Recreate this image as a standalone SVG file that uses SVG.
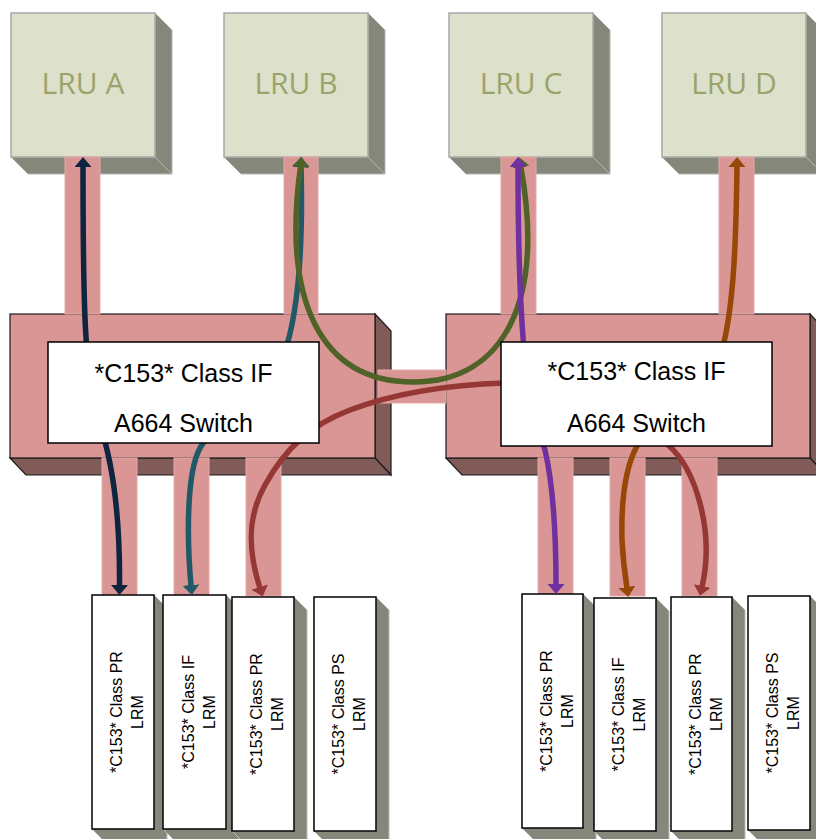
<svg xmlns="http://www.w3.org/2000/svg" width="816" height="839" viewBox="0 0 816 839">
<style>
.lru-f{fill:#dde0cb;stroke:#a8a8a8;stroke-width:1.5}
.lru-s{fill:#85877b;stroke:#b4b6ab;stroke-width:1}
.lru-t{font-family:"Open Sans","DejaVu Sans",sans-serif;font-size:30px;fill:#9aa46a;text-anchor:middle}
.sw-f{fill:#d99694;stroke:#1a1a1a;stroke-width:1.2}
.sw-s{fill:#815b57;stroke:#1a1a1a;stroke-width:1.2}
.link{fill:#d99694;stroke:#e2aba9;stroke-width:1}
.lbl{fill:#fff;stroke:#000;stroke-width:1.5}
.lbl-t{font-family:"Liberation Sans",Arial,sans-serif;font-size:25px;fill:#000;text-anchor:middle}
.lrm-f{fill:#fff;stroke:#000;stroke-width:1.5}
.lrm-s{fill:#85877b;stroke:#b9bab0;stroke-width:1}
.lrm-t{font-family:"Liberation Sans",Arial,sans-serif;font-size:16px;fill:#000;text-anchor:middle}
.arr{fill:none;stroke-width:5.5}
</style>
<defs>
<marker id="m-navy" viewBox="0 0 10 17" refX="1" refY="8.5" markerWidth="10" markerHeight="17" markerUnits="userSpaceOnUse" orient="auto-start-reverse"><path d="M0,0 L10,8.5 L0,17 z" fill="#0f243e"/></marker>
<marker id="m-teal" viewBox="0 0 10 17" refX="1" refY="8.5" markerWidth="10" markerHeight="17" markerUnits="userSpaceOnUse" orient="auto-start-reverse"><path d="M0,0 L10,8.5 L0,17 z" fill="#215967"/></marker>
<marker id="m-green" viewBox="0 0 10 17" refX="1" refY="8.5" markerWidth="10" markerHeight="17" markerUnits="userSpaceOnUse" orient="auto-start-reverse"><path d="M0,0 L10,8.5 L0,17 z" fill="#4f6228"/></marker>
<marker id="m-purple" viewBox="0 0 10 17" refX="1" refY="8.5" markerWidth="10" markerHeight="17" markerUnits="userSpaceOnUse" orient="auto-start-reverse"><path d="M0,0 L10,8.5 L0,17 z" fill="#7030a0"/></marker>
<marker id="m-orange" viewBox="0 0 10 17" refX="1" refY="8.5" markerWidth="10" markerHeight="17" markerUnits="userSpaceOnUse" orient="auto-start-reverse"><path d="M0,0 L10,8.5 L0,17 z" fill="#974806"/></marker>
<marker id="m-red" viewBox="0 0 10 17" refX="1" refY="8.5" markerWidth="10" markerHeight="17" markerUnits="userSpaceOnUse" orient="auto-start-reverse"><path d="M0,0 L10,8.5 L0,17 z" fill="#953735"/></marker>
</defs>
<rect width="816" height="839" fill="#fff"/>

<!-- LRUs -->
<g id="lru-a">
<polygon class="lru-s" points="155,13 172,30 172,174 155,157"/>
<polygon class="lru-s" points="11,157 155,157 172,174 28,174"/>
<rect class="lru-f" x="11" y="13" width="144" height="144"/>
<text class="lru-t" x="83" y="94">LRU A</text>
</g>
<g id="lru-b">
<polygon class="lru-s" points="368,13 385,30 385,174 368,157"/>
<polygon class="lru-s" points="224,157 368,157 385,174 241,174"/>
<rect class="lru-f" x="224" y="13" width="144" height="144"/>
<text class="lru-t" x="296" y="94">LRU B</text>
</g>
<g id="lru-c">
<polygon class="lru-s" points="593,13 610,30 610,174 593,157"/>
<polygon class="lru-s" points="449,157 593,157 610,174 466,174"/>
<rect class="lru-f" x="449" y="13" width="144" height="144"/>
<text class="lru-t" x="521" y="94">LRU C</text>
</g>
<g id="lru-d">
<polygon class="lru-s" points="806,13 823,30 823,174 806,157"/>
<polygon class="lru-s" points="662,157 806,157 823,174 679,174"/>
<rect class="lru-f" x="662" y="13" width="144" height="144"/>
<text class="lru-t" x="734" y="94">LRU D</text>
</g>

<!-- Switch bodies -->
<g id="switch-1">
<polygon class="sw-s" points="375,314 391,331 391,475 375,458"/>
<polygon class="sw-s" points="10,458 375,458 391,475 26,475"/>
<rect class="sw-f" x="10" y="314" width="365" height="144"/>
</g>
<g id="switch-2">
<polygon class="sw-s" points="810,314 826,331 826,475 810,458"/>
<polygon class="sw-s" points="446,458 810,458 826,475 462,475"/>
<rect class="sw-f" x="446" y="314" width="364" height="144"/>
</g>

<!-- Physical links -->
<g id="links">
<rect class="link" x="65" y="157" width="35" height="157"/>
<rect class="link" x="284" y="157" width="34" height="157"/>
<rect class="link" x="501" y="157" width="35" height="157"/>
<rect class="link" x="719" y="157" width="35" height="157"/>
<rect class="link" x="378" y="370" width="68" height="33" stroke="none"/>
<rect class="link" x="102" y="458" width="35" height="138"/>
<rect class="link" x="174" y="458" width="35" height="138"/>
<rect class="link" x="246" y="458" width="35" height="138"/>
<rect class="link" x="538" y="458" width="35" height="138"/>
<rect class="link" x="610" y="458" width="35" height="138"/>
<rect class="link" x="682" y="458" width="35" height="138"/>
</g>

<!-- LRMs -->
<g id="lrm-l1">
<polygon class="lrm-s" points="154,595 167,608 167,842 105,842 92,829 154,829"/>
<rect class="lrm-f" x="92" y="595" width="62" height="234"/>
<text class="lrm-t" transform="translate(123,712) rotate(-90)"><tspan x="0" y="-1">*C153* Class PR</tspan><tspan x="0" y="20">LRM</tspan></text>
</g>
<g id="lrm-l2">
<polygon class="lrm-s" points="226,595 239,608 239,842 176,842 163,829 226,829"/>
<rect class="lrm-f" x="163" y="595" width="63" height="234"/>
<text class="lrm-t" transform="translate(194.5,712) rotate(-90)"><tspan x="0" y="-1">*C153* Class IF</tspan><tspan x="0" y="20">LRM</tspan></text>
</g>
<g id="lrm-l3">
<polygon class="lrm-s" points="294,597 307,610 307,844 245,844 232,831 294,831"/>
<rect class="lrm-f" x="232" y="597" width="62" height="234"/>
<text class="lrm-t" transform="translate(263,714) rotate(-90)"><tspan x="0" y="-1">*C153* Class PR</tspan><tspan x="0" y="20">LRM</tspan></text>
</g>
<g id="lrm-l4">
<polygon class="lrm-s" points="376,597 389,610 389,844 327,844 314,831 376,831"/>
<rect class="lrm-f" x="314" y="597" width="62" height="234"/>
<text class="lrm-t" transform="translate(345,714) rotate(-90)"><tspan x="0" y="-1">*C153* Class PS</tspan><tspan x="0" y="20">LRM</tspan></text>
</g>
<g id="lrm-r1">
<polygon class="lrm-s" points="583,594 596,607 596,841 535,841 522,828 583,828"/>
<rect class="lrm-f" x="522" y="594" width="61" height="234"/>
<text class="lrm-t" transform="translate(552.5,711) rotate(-90)"><tspan x="0" y="-1">*C153* Class PR</tspan><tspan x="0" y="20">LRM</tspan></text>
</g>
<g id="lrm-r2">
<polygon class="lrm-s" points="656,598 669,611 669,844 607,844 594,831 656,831"/>
<rect class="lrm-f" x="594" y="598" width="62" height="233"/>
<text class="lrm-t" transform="translate(625,714.5) rotate(-90)"><tspan x="0" y="-1">*C153* Class IF</tspan><tspan x="0" y="20">LRM</tspan></text>
</g>
<g id="lrm-r3">
<polygon class="lrm-s" points="732,597 745,610 745,844 684,844 671,831 732,831"/>
<rect class="lrm-f" x="671" y="597" width="61" height="234"/>
<text class="lrm-t" transform="translate(701.5,714) rotate(-90)"><tspan x="0" y="-1">*C153* Class PR</tspan><tspan x="0" y="20">LRM</tspan></text>
</g>
<g id="lrm-r4">
<polygon class="lrm-s" points="810,596 823,609 823,843 761,843 748,830 810,830"/>
<rect class="lrm-f" x="748" y="596" width="62" height="234"/>
<text class="lrm-t" transform="translate(779,713) rotate(-90)"><tspan x="0" y="-1">*C153* Class PS</tspan><tspan x="0" y="20">LRM</tspan></text>
</g>

<!-- Virtual link connectors -->
<g id="connectors">
<path class="arr" stroke="#0f243e" marker-start="url(#m-navy)" marker-end="url(#m-navy)" d="M83,166 C83,300 84,380 100,425 C115,470 120,530 119.5,586"/>
<path class="arr" stroke="#215967" marker-start="url(#m-teal)" marker-end="url(#m-teal)" d="M301,166 C303,240 300,300 287,345 C270,405 215,420 200,448 C186,474 187,540 191,586"/>
<path class="arr" stroke="#4f6228" stroke-width="6" marker-start="url(#m-green)" marker-end="url(#m-green)" d="M300.6,166 C282,300 320,382 413,382 C505,382 545,300 520.7,166"/>
<path class="arr" stroke="#7030a0" marker-start="url(#m-purple)" marker-end="url(#m-purple)" d="M518,166 C518,250 521,320 525,360 C530,410 538,430 545,450 C552,480 556,530 556,585"/>
<path class="arr" stroke="#974806" marker-start="url(#m-orange)" marker-end="url(#m-orange)" d="M737,166 C736,250 733,310 722,350 C705,400 655,415 637,446 C625,468 621,500 622,540 C623,560 625,575 627,588"/>
<path class="arr" stroke="#953735" marker-start="url(#m-red)" marker-end="url(#m-red)" d="M260,588 C247,548 248,515 265,485 C285,449 310,425 350,410 C390,395 440,385 505,383 C590,381 640,415 668,445 C695,468 715,530 702,587"/>
</g>

<!-- Switch labels -->
<g id="switch-1-label">
<rect class="lbl" x="48" y="342" width="271" height="101"/>
<text class="lbl-t" x="183.5" y="381.5">*C153* Class IF</text>
<text class="lbl-t" x="183.5" y="432">A664 Switch</text>
</g>
<g id="switch-2-label">
<rect class="lbl" x="501" y="342" width="271" height="104"/>
<text class="lbl-t" x="636.5" y="380">*C153* Class IF</text>
<text class="lbl-t" x="636.5" y="431.5">A664 Switch</text>
</g>
</svg>
